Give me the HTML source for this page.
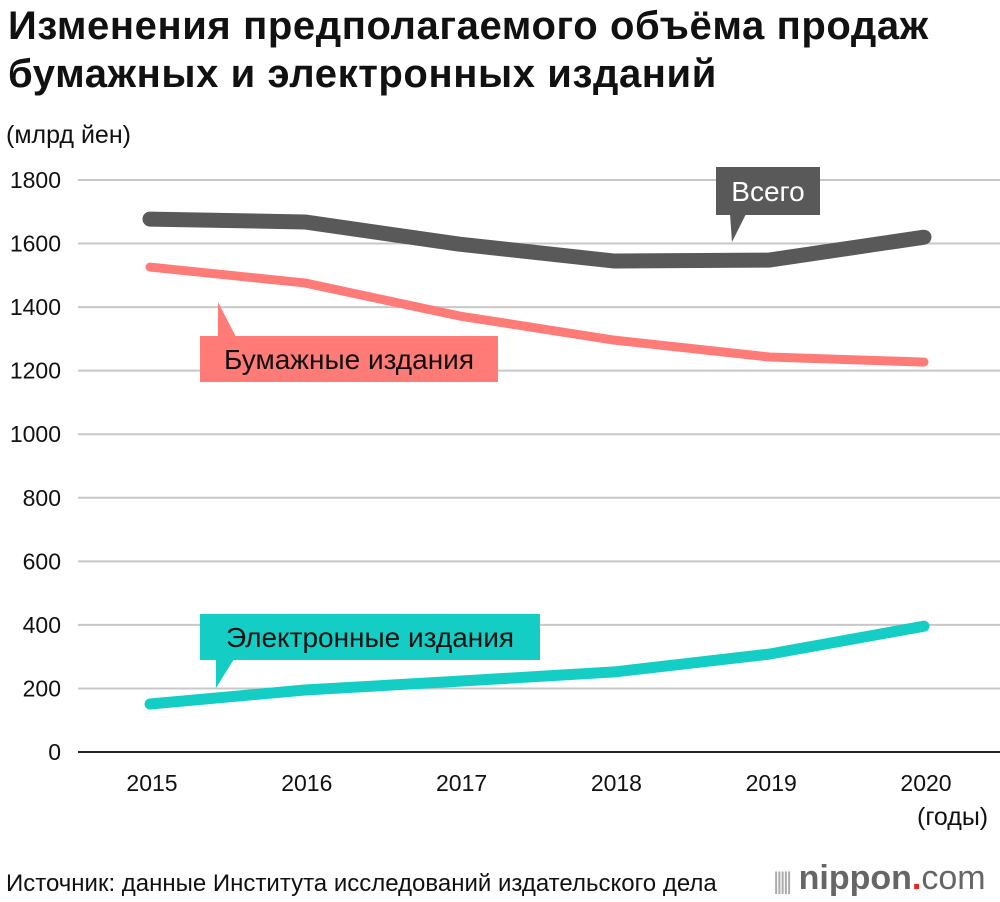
<!DOCTYPE html>
<html><head><meta charset="utf-8"><style>
body{margin:0;background:#fff;font-family:"Liberation Sans","Noto Sans CJK JP",sans-serif;}
#wrap{position:relative;width:1000px;height:902px;overflow:hidden;}
.t{position:absolute;white-space:nowrap;color:#111;}
</style></head><body>
<div id="wrap">
<div class="t" style="left:8px;top:2px;font-size:40px;font-weight:bold;line-height:48px;letter-spacing:0.6px">Изменения предполагаемого объёма продаж<br>бумажных и электронных изданий</div>
<div class="t" style="left:6px;top:121px;font-size:25px">(млрд йен)</div>
<div class="t" style="left:917px;top:803px;font-size:25px">(годы)</div>
<div class="t" style="left:6px;top:870px;font-size:24px">Источник: данные Института исследований издательского дела</div>
<div class="t" style="left:773px;top:859px;font-size:34px;color:#666;font-weight:bold"><span style="font-weight:normal;color:#aaa;font-size:24px;letter-spacing:-3px">|||||</span> nippon<span style="color:#e22">.</span><span style="font-weight:normal">com</span></div>
<svg id="svg" width="1000" height="902" style="position:absolute;left:0;top:0"></svg>
</div>
<script>
const years=["2015","2016","2017","2018","2019","2020"];
const yTicks=[0,200,400,600,800,1000,1200,1400,1600,1800];
const totalVals=[1677,1668,1598,1545,1548,1620];
const paperVals=[1526,1476,1372,1296,1243,1227];
const ebookVals=[151,195,223,252,308,396];

const NS="http://www.w3.org/2000/svg";
const svg=document.getElementById('svg');
const X=i=>150+i*154.8;
const Y=v=>752-v*(572/1800);
function mk(tag,attrs){const e=document.createElementNS(NS,tag);for(const k in attrs)e.setAttribute(k,attrs[k]);svg.appendChild(e);return e;}
yTicks.forEach(v=>{
  const l=mk('line',{x1:78,x2:1000,y1:Y(v),y2:Y(v),stroke:v===0?'#222':'#c8c8c8','stroke-width':2});
  
  
  const t=mk('text',{x:61,y:Y(v)+8,'text-anchor':'end','font-size':23,fill:'#111','font-family':'Liberation Sans, sans-serif'});
  t.textContent=v;
  
  
});
years.forEach((y,i)=>{
  const t=mk('text',{x:X(i)+2,y:791,'text-anchor':'middle','font-size':23,fill:'#111','font-family':'Liberation Sans, sans-serif'});
  t.textContent=y;
  
  
});
function line(vals,color,w,name){
  const p=mk('polyline',{points:vals.map((v,i)=>X(i)+','+Y(v)).join(' '),fill:'none',stroke:color,'stroke-width':w,'stroke-linecap':'round','stroke-linejoin':'round'});
  
  
}
line(ebookVals,'#14cdc4',11,'ebook-line');
line(paperVals,'#ff7b78',9,'paper-line');
line(totalVals,'#595959',15,'total-line');
function label(x,y,w,h,text,color,tc,tail,name){
  const g=mk('g',{});
  
  
  const r=document.createElementNS(NS,'rect');r.setAttribute('x',x);r.setAttribute('y',y);r.setAttribute('width',w);r.setAttribute('height',h);r.setAttribute('fill',color);g.appendChild(r);
  const p=document.createElementNS(NS,'polygon');p.setAttribute('points',tail);p.setAttribute('fill',color);g.appendChild(p);
  const t=document.createElementNS(NS,'text');t.setAttribute('x',x+w/2);t.setAttribute('y',y+h/2+10);t.setAttribute('text-anchor','middle');t.setAttribute('font-size',28);t.setAttribute('fill',tc);t.setAttribute('font-family','Liberation Sans, sans-serif');t.textContent=text;g.appendChild(t);
}
label(716,167,104,48,'Всего','#595959','#fff','730,214 746,214 732,242','total-label');
label(200,336,298,46,'Бумажные издания','#ff7b78','#111','218,337 236,337 218,302','paper-label');
label(200,614,340,46,'Электронные издания','#14cdc4','#111','216,659 234,659 216,688','ebook-label');
</script>
</body></html>
